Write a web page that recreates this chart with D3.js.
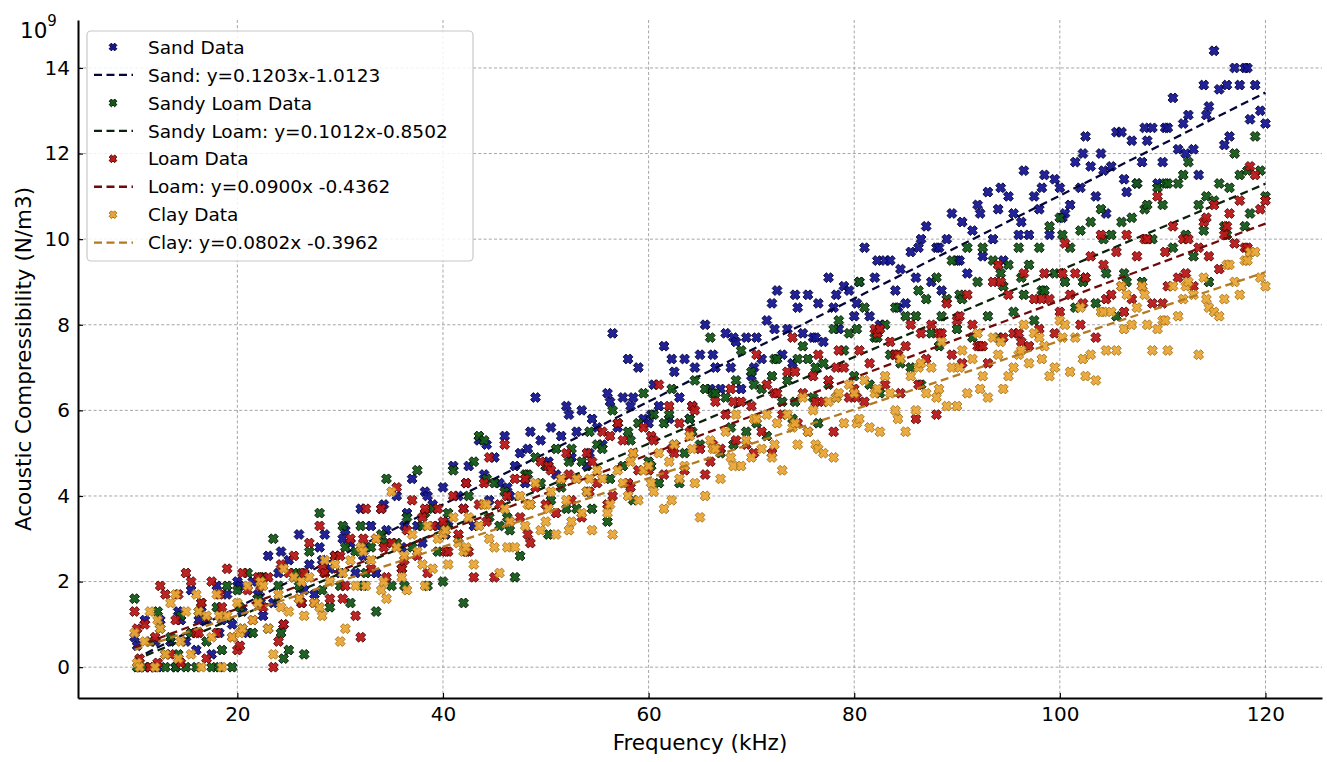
<!DOCTYPE html>
<html>
<head>
<meta charset="utf-8">
<script src="https://cdn.jsdelivr.net/npm/d3@7"></script>
<style>
  html, body { margin: 0; padding: 0; background: #fff; }
  svg { display: block; font-family: "DejaVu Sans", sans-serif; }
</style>
</head>
<body>
<svg id="chart" width="1327" height="762"></svg>
<script>
// ---------------- DATA ----------------
const frequency = [
  10,10.5,11,11.5,12,12.5,13,13.5,14,14.5,15,15.5,16,16.5,17,17.5,18,18.5,19,19.5,
  20,20.5,21,21.5,22,22.5,23,23.5,24,24.5,25,25.5,26,26.5,27,27.5,28,28.5,29,29.5,
  30,30.5,31,31.5,32,32.5,33,33.5,34,34.5,35,35.5,36,36.5,37,37.5,38,38.5,39,39.5,
  40,40.5,41,41.5,42,42.5,43,43.5,44,44.5,45,45.5,46,46.5,47,47.5,48,48.5,49,49.5,
  50,50.5,51,51.5,52,52.5,53,53.5,54,54.5,55,55.5,56,56.5,57,57.5,58,58.5,59,59.5,
  60,60.5,61,61.5,62,62.5,63,63.5,64,64.5,65,65.5,66,66.5,67,67.5,68,68.5,69,69.5,
  70,70.5,71,71.5,72,72.5,73,73.5,74,74.5,75,75.5,76,76.5,77,77.5,78,78.5,79,79.5,
  80,80.5,81,81.5,82,82.5,83,83.5,84,84.5,85,85.5,86,86.5,87,87.5,88,88.5,89,89.5,
  90,90.5,91,91.5,92,92.5,93,93.5,94,94.5,95,95.5,96,96.5,97,97.5,98,98.5,99,99.5,
  100,100.5,101,101.5,102,102.5,103,103.5,104,104.5,105,105.5,106,106.5,107,107.5,108,108.5,109,109.5,
  110,110.5,111,111.5,112,112.5,113,113.5,114,114.5,115,115.5,116,116.5,117,117.5,118,118.5,119,119.5,
  120
];
// additional sample frequencies (between the main ones)
const frequencyExtra = [
  10.25,12.25,14.25,16.25,18.25,20.25,22.25,24.25,26.25,28.25,
  30.25,32.25,34.25,36.25,38.25,40.25,42.25,44.25,46.25,48.25,
  50.25,52.25,54.25,56.25,58.25,60.25,62.25,64.25,66.25,68.25,
  70.25,72.25,74.25,76.25,78.25,80.25,82.25,84.25,86.25,88.25,
  90.25,92.25,94.25,96.25,98.25,100.25,102.25,104.25,106.25,108.25,
  110.25,112.25,114.25,116.25,118.25
];

const sandValues = [
  0.7,0,1.1,0,0.6,1.1,0.3,0.6,0,1.1,0.6,1.8,0.4,1.3,1.1,0.3,1.9,1.1,1.7,1.0,
  2.0,1.3,0.8,2.0,1.7,1.2,2.6,1.5,2.2,1.0,2.5,2.1,3.1,1.8,2.4,1.7,2.8,3.1,2.3,2.6,
  2.2,3.2,2.9,2.2,3.7,2.8,3.3,2.2,3.7,3.2,2.9,4.0,2.8,3.6,4.4,3.3,2.9,4.0,3.8,3.3,
  4.2,3.4,4.7,4.0,3.7,4.7,3.3,5.3,4.5,3.9,4.9,4.3,5.4,4.0,4.7,5.0,4.3,5.5,6.3,5.3,
  4.7,5.6,4.5,5.4,6.1,4.9,5.5,6.0,4.7,5.8,5.6,5.2,6.4,7.8,5.6,6.3,7.2,6.3,7.0,5.8,
  5.7,6.6,6.1,7.5,5.8,6.9,6.3,7.2,5.8,7.0,7.3,8.0,6.5,7.0,6.5,7.8,7.0,7.6,6.5,7.7,
  6.8,7.7,7.2,8.1,8.5,8.8,7.3,7.9,7.1,8.4,7.8,8.7,7.7,8.5,7.6,9.1,8.4,7.9,8.9,8.8,
  8.2,9.0,9.8,8.2,9.1,8.0,9.5,9.5,8.8,9.3,8.5,9.7,9.1,10.0,10.3,9.0,9.8,8.8,10.0,10.6,
  9.5,10.4,9.2,10.2,10.8,9.6,11.1,10.0,10.7,9.5,11.0,10.6,10.1,11.6,10.1,11.0,10.7,11.5,10.1,11.4,
  11.2,10.6,10.8,11.8,11.2,12.4,11.7,11.0,12.0,10.6,11.7,12.5,12.5,11.1,12.3,11.3,11.8,12.3,12.6,11.3,
  11.8,12.6,13.3,12.1,12.7,12.9,12.1,11.5,13.6,13.1,14.4,13.5,12.2,12.4,14.0,13.6,14.0,12.8,13.6,13.0,
  12.7
];
const sandExtraValues = [
  0.5,0,1.3,1.1,0.8,1.9,1.5,2.7,1.5,2.5,
  3.0,2.6,3.8,3.3,4.1,3.1,4.3,5.2,4.2,5.1,
  4.8,5.9,5.0,6.2,6.1,5.9,7.2,6.1,7.3,7.7,
  7.0,7.9,8.7,7.7,8.7,8.5,9.5,8.4,9.8,9.8,
  9.5,10.6,11.2,10.4,11.2,10.5,12.0,11.6,11.4,12.6,
  12.6,12.0,12.9,13.6,14.0
];

const sandyLoamValues = [
  1.6,0,0,0.6,0,0.9,0,0.7,0,1.2,0,0.8,0,1.5,0.6,0,1.4,0.4,1.9,0,
  1.8,0.9,2.2,0.8,1.6,2.1,0.9,3.0,1.9,0.2,0.4,2.2,1.9,0.3,2.7,1.5,3.6,2.2,1.4,2.6,
  1.9,2.8,1.5,2.7,3.3,2.2,2.8,1.3,3.1,4.4,1.9,2.9,2.3,3.5,2.8,4.6,3.3,1.9,3.7,2.7,
  2.0,3.6,4.6,3.0,1.5,4.0,4.8,5.4,5.3,3.5,4.3,3.3,4.1,3.2,2.1,2.6,4.5,3.8,4.9,4.3,
  4.7,3.9,5.1,4.2,3.7,5.1,3.7,4.8,4.1,3.7,5.2,5.1,3.4,6.0,5.7,4.7,5.5,3.9,5.7,6.4,
  4.8,5.9,4.3,5.7,5.9,5.2,4.3,5.0,5.8,6.7,5.2,6.5,7.7,6.4,5.0,6.3,5.6,6.7,7.4,5.5,
  6.9,5.7,6.5,5.4,6.8,7.2,6.2,6.7,5.8,7.2,7.5,7.2,6.3,5.7,7.1,6.6,7.9,8.1,7.4,7.8,
  6.8,9.0,8.4,6.6,7.7,6.4,8.0,7.3,8.4,7.1,8.2,7.0,8.2,6.6,8.6,7.8,9.1,8.2,8.6,9.5,
  7.9,8.6,9.8,7.7,9.0,9.8,8.2,9.5,7.7,8.9,9.4,8.3,9.8,8.7,9.4,8.1,9.8,8.8,10.3,9.2,
  10.5,9.0,9.8,8.4,10.2,9.1,10.4,8.5,10.7,9.2,10.1,8.2,10.4,9.0,10.5,11.3,9.0,10.8,10.0,11.2,
  10.8,11.3,9.8,11.3,11.5,11.8,9.6,10.8,10.2,9.0,10.9,11.3,10.3,11.2,12.0,11.5,10.3,10.6,12.4,11.6,
  11.0
];
const sandyLoamExtraValues = [
  0,1.3,0.3,1.3,0,1.4,2.1,0.8,2.2,1.8,
  3.3,1.9,2.9,1.9,3.6,3.3,2.7,4.4,3.5,4.5,
  3.1,4.8,5.5,4.4,5.3,4.7,6.5,5.5,6.4,5.2,
  6.6,7.2,6.2,7.0,6.3,7.9,7.7,7.3,8.8,7.5,
  8.7,7.5,9.2,9.1,8.8,10.1,9.0,10.0,9.2,10.7,
  11.3,10.1,11.0,10.1,11.6
];

const loamValues = [
  1.3,0.2,1.0,0,0.7,1.9,1.7,0.3,1.1,0.1,2.2,2.0,0.8,1.5,0.2,2.0,0.8,1.4,2.3,0.7,
  0.4,2.2,1.8,1.1,2.1,1.4,2.1,0,0.6,1.0,2.2,2.6,1.6,2.2,2.9,1.5,3.3,2.2,1.6,2.6,
  2.6,1.9,3.0,1.2,0.7,3.7,2.3,3.0,3.7,2.1,2.9,4.2,2.3,3.2,3.9,2.6,3.5,2.2,3.3,3.7,
  3.4,2.7,4.0,3.1,3.7,2.7,2.1,3.8,4.3,4.9,2.1,3.8,5.2,3.4,4.4,3.5,4.4,2.9,4.2,4.8,
  3.8,4.6,3.6,4.4,5.0,3.9,4.4,3.5,5.0,4.8,4.3,5.5,3.8,4.0,5.7,5.3,4.3,5.0,4.6,5.6,
  4.6,5.3,6.6,4.5,6.1,5.0,5.7,4.6,5.5,6.0,5.1,4.5,4.8,6.2,5.1,5.9,6.5,5.3,6.2,5.2,
  6.1,7.3,5.5,6.6,5.0,6.4,5.9,6.9,7.7,5.7,6.4,5.5,6.8,7.3,6.2,6.7,5.5,7.4,7.0,6.3,
  6.5,7.4,6.2,7.1,7.9,7.9,6.6,7.6,7.3,6.4,7.5,8.0,5.8,7.8,7.2,8.0,5.9,7.8,8.5,7.3,
  8.1,7.1,8.7,8.0,7.5,7.5,7.1,9.0,9.4,7.7,8.7,7.8,7.8,9.2,7.5,8.6,7.9,9.2,8.6,7.8,
  8.3,9.9,8.7,9.2,8.0,9.1,9.6,7.7,10.1,8.6,8.7,9.7,8.9,10.1,8.6,9.6,8.9,10.0,8.5,11.0,
  8.5,8.9,10.3,9.1,10.0,10.0,8.9,9.8,10.4,9.6,10.8,9.3,10.1,10.6,9.9,10.9,9.8,11.7,11.5,10.7,
  10.9
];
const loamExtraValues = [
  0.9,0.1,1.7,0.8,1.7,0.5,1.9,2.4,1.5,2.3,
  1.6,3.0,2.8,2.5,3.7,2.7,4.3,3.4,4.0,3.1,
  4.7,4.5,4.1,5.4,4.2,5.4,5.1,6.1,5.2,6.2,
  5.0,6.4,6.9,6.2,7.0,6.3,7.8,7.3,6.6,7.8,
  8.2,7.5,9.0,7.6,8.6,9.2,8.5,9.4,8.3,10.0,
  9.7,9.2,10.5,10.3,9.8
];

const clayValues = [
  0.8,0,0.6,1.3,0,0.9,0.3,1.5,1.7,0.6,1.3,0.3,1.7,0,1.2,0.7,1.7,0,1.2,0.7,
  1.5,0.9,1.9,1.1,1.5,1.9,0.9,0.3,1.7,2.3,1.3,2.1,1.6,1.2,2.1,1.5,1.4,2.5,2.0,2.4,
  0.6,0.9,2.5,1.9,2.8,1.9,2.5,3.0,1.8,1.6,4.1,2.8,2.1,1.8,3.1,2.7,2.4,3.3,2.3,3.0,
  3.1,2.4,3.5,2.9,2.7,3.5,2.4,3.3,3.8,3.0,2.8,2.2,3.7,3.4,2.8,4.0,3.3,3.8,4.3,3.2,
  3.4,4.1,3.1,4.4,3.9,3.4,4.4,3.6,4.1,3.2,4.6,4.4,3.6,3.1,4.6,4.3,4.0,5.0,3.9,4.6,
  4.7,4.1,5.0,3.7,4.8,5.2,4.4,4.7,5.4,4.3,3.5,4.0,5.3,5.1,4.4,5.5,4.9,5.9,4.7,5.3,
  4.9,5.8,5.1,5.9,4.9,5.7,4.6,5.9,5.6,5.2,6.3,5.5,6.0,5.1,5.0,6.2,4.9,6.4,5.7,6.6,
  6.4,5.8,6.7,5.6,6.4,5.5,6.8,6.4,6.0,7.2,5.5,6.8,6.0,7.1,6.4,7.0,6.3,7.6,6.1,7.0,
  6.1,7.4,6.4,7.2,7.8,6.8,6.3,7.7,7.3,6.5,6.8,7.0,7.3,8.0,7.1,7.8,7.7,7.5,6.8,7.0,
  8.1,8.0,6.9,7.7,8.4,6.8,7.3,6.7,8.3,7.4,8.3,7.4,8.9,8.7,8.0,8.4,8.9,8.0,7.4,7.9,
  8.1,7.4,8.9,8.2,8.6,9.0,8.7,7.3,9.1,8.4,8.3,8.2,8.6,9.4,9.0,8.7,9.5,9.7,9.7,9.1,
  8.9
];
const clayExtraValues = [
  0.1,1.1,0.2,1.3,1.2,0.8,2.0,1.4,2.0,1.2,
  2.2,2.7,2.0,2.6,1.9,3.2,2.8,3.8,2.8,3.8,
  3.7,3.2,4.4,3.8,4.8,4.3,3.9,5.1,5.1,4.7,
  5.8,5.2,5.7,5.2,6.3,5.7,6.5,5.8,7.0,6.5,
  7.0,6.5,7.6,7.4,7.2,7.7,7.2,8.3,7.9,8.7,
  8.1,8.9,8.6,9.4,9.5
];

// Regression lines as printed in the legend
const seriesNames = ["Sand", "Sandy Loam", "Loam", "Clay"];
const fitSlopes = [0.1203, 0.1012, 0.0900, 0.0802];
const fitIntercepts = [-1.0123, -0.8502, -0.4362, -0.3962];
const fitLabels = [
  "Sand: y=0.1203x-1.0123",
  "Sandy Loam: y=0.1012x-0.8502",
  "Loam: y=0.0900x -0.4362",
  "Clay: y=0.0802x -0.3962"
];
const fitRange = [10, 120];

const xTicks = [20, 40, 60, 80, 100, 120];
const yTicks = [0, 2, 4, 6, 8, 10, 12, 14];

// ---------------- STYLE ----------------
const pointFill   = ["#161694", "#135a18", "#bc1818", "#eaa636"];
const pointStroke = ["#000034", "#001200", "#520000", "#a47016"];
const lineColor   = ["#06063a", "#0a220a", "#700a0a", "#b27a22"];

const mainValues  = [sandValues, sandyLoamValues, loamValues, clayValues];
const extraValues = [sandExtraValues, sandyLoamExtraValues, loamExtraValues, clayExtraValues];

const svg = d3.select("#chart");
const W = 1327, H = 762;
const plot = { left: 78, right: 1322, top: 20, bottom: 698 };

const x = d3.scaleLinear().domain([4.5, 125.5]).range([plot.left, plot.right]);
const y = d3.scaleLinear().domain([-0.72, 15.12]).range([plot.bottom, plot.top]);

svg.append("rect").attr("width", W).attr("height", H).attr("fill", "#fff");

// grid
const grid = svg.append("g").attr("stroke", "#9c9c9c").attr("stroke-width", 0.9)
  .attr("stroke-dasharray", "3,2.2");
grid.selectAll("line.gx").data(xTicks).join("line")
  .attr("x1", d => x(d)).attr("x2", d => x(d))
  .attr("y1", plot.top).attr("y2", plot.bottom);
grid.selectAll("line.gy").data(yTicks).join("line")
  .attr("x1", plot.left).attr("x2", plot.right)
  .attr("y1", d => y(d)).attr("y2", d => y(d));

// X-shaped filled marker
function xMarker(size) {
  const w = 0.2, L = 0.5, c = Math.SQRT1_2;
  const pts = [[w,w],[w,L],[-w,L],[-w,w],[-L,w],[-L,-w],[-w,-w],[-w,-L],[w,-L],[w,-w],[L,-w],[L,w]];
  return "M" + pts.map(([a,b]) => [((a - b) * c * size).toFixed(2), ((a + b) * c * size).toFixed(2)].join(",")).join("L") + "Z";
}
const markerPath = xMarker(10);
const legendMarker = xMarker(7.8);

const lineGen = d3.line().x(d => x(d[0])).y(d => y(d[1]));

seriesNames.forEach((name, si) => {
  const a = mainValues[si], b = extraValues[si];
  const pts = d3.range(Math.min(a.length, frequency.length)).map(i => [frequency[i], a[i]])
    .concat(d3.range(Math.min(b.length, frequencyExtra.length)).map(i => [frequencyExtra[i], b[i]]))
    .sort((p, q) => p[0] - q[0]);
  svg.append("g")
    .selectAll("path").data(pts).join("path")
    .attr("d", markerPath)
    .attr("transform", d => `translate(${x(d[0]).toFixed(2)},${y(d[1]).toFixed(2)})`)
    .attr("fill", pointFill[si])
    .attr("fill-opacity", 0.95)
    .attr("stroke", pointStroke[si])
    .attr("stroke-width", 0.9);
  const linePts = fitRange.map(f => [f, fitSlopes[si] * f + fitIntercepts[si]]);
  svg.append("path")
    .attr("d", lineGen(linePts))
    .attr("fill", "none")
    .attr("stroke", lineColor[si])
    .attr("stroke-width", 2.3)
    .attr("stroke-dasharray", "8,4.5");
});

// axes
const fontTick = 20;
const yAxis = d3.axisLeft(y).tickValues(yTicks).tickSizeInner(-5).tickSizeOuter(0).tickPadding(8)
  .tickFormat(d3.format("d"));
const xAxis = d3.axisBottom(x).tickValues(xTicks).tickSizeInner(-5).tickSizeOuter(0).tickPadding(9)
  .tickFormat(d3.format("d"));

const gy = svg.append("g").attr("transform", `translate(${plot.left},0)`).call(yAxis);
const gx = svg.append("g").attr("transform", `translate(0,${plot.bottom})`).call(xAxis);
[gx, gy].forEach(g => {
  g.select(".domain").attr("stroke", "#000").attr("stroke-width", 2);
  g.selectAll(".tick line").attr("stroke", "#000").attr("stroke-width", 1.2);
  g.selectAll(".tick text").attr("fill", "#000")
    .style("font-family", "DejaVu Sans").style("font-size", fontTick + "px");
});

// offset text 10^9
const off = svg.append("text").attr("x", 20).attr("y", 38)
  .style("font-family", "DejaVu Sans").style("font-size", "21.5px").attr("fill", "#000");
off.append("tspan").text("10");
off.append("tspan").attr("dy", -12).style("font-size", "15px").text("9");

// axis labels
svg.append("text")
  .attr("x", (plot.left + plot.right) / 2).attr("y", 750)
  .attr("text-anchor", "middle")
  .style("font-family", "DejaVu Sans").style("font-size", "21.5px")
  .attr("fill", "#000")
  .text("Frequency (kHz)");
svg.append("text")
  .attr("transform", `translate(31,${(plot.top + plot.bottom) / 2}) rotate(-90)`)
  .attr("text-anchor", "middle")
  .style("font-family", "DejaVu Sans").style("font-size", "21.5px")
  .attr("fill", "#000")
  .text("Acoustic Compressibility (N/m3)");

// legend
const leg = svg.append("g");
leg.append("rect").attr("x", 87).attr("y", 31).attr("width", 386).attr("height", 230)
  .attr("rx", 4).attr("fill", "#fff").attr("fill-opacity", 0.85)
  .attr("stroke", "#c8c8c8").attr("stroke-width", 1.2);
const legendItems = [];
seriesNames.forEach((name, si) => {
  legendItems.push({ type: "pt", si, label: name + " Data" });
  legendItems.push({ type: "ln", si, label: fitLabels[si] });
});
legendItems.forEach((it, i) => {
  const cy = 47 + i * 27.95;
  if (it.type === "pt") {
    leg.append("path").attr("d", legendMarker)
      .attr("transform", `translate(113,${cy})`)
      .attr("fill", pointFill[it.si]).attr("stroke", pointStroke[it.si]).attr("stroke-width", 1);
  } else {
    leg.append("line").attr("x1", 94).attr("x2", 133).attr("y1", cy).attr("y2", cy)
      .attr("stroke", lineColor[it.si]).attr("stroke-width", 2.3).attr("stroke-dasharray", "8,4.5");
  }
  leg.append("text").attr("x", 148).attr("y", cy).attr("dy", "0.36em")
    .style("font-family", "DejaVu Sans").style("font-size", "18.5px").attr("fill", "#000")
    .text(it.label);
});
</script>
</body>
</html>
